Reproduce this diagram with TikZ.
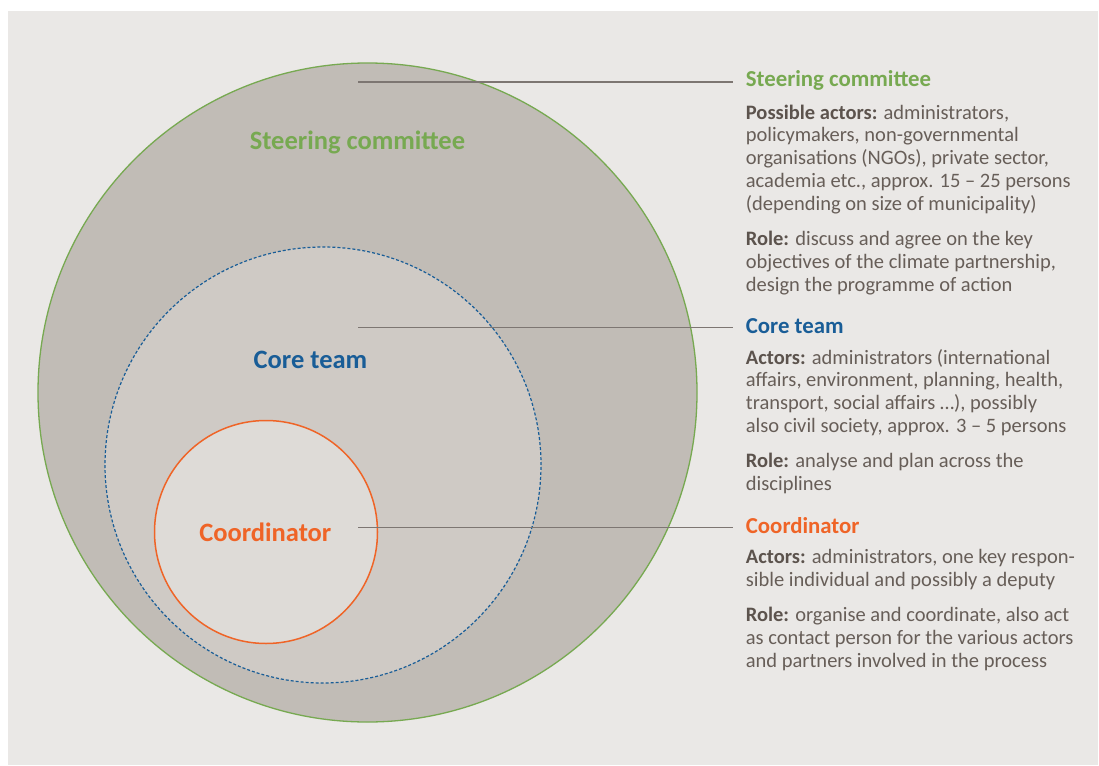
\documentclass[tikz,border=0pt]{standalone}
\usepackage{fontspec}
\setmainfont{Carlito}
\definecolor{bgc}{HTML}{EAE8E6}
\definecolor{fillout}{HTML}{C1BCB6}
\definecolor{fillmid}{HTML}{CFCAC5}
\definecolor{fillin}{HTML}{DEDBD7}
\definecolor{cgreen}{HTML}{77A951}
\definecolor{cblue}{HTML}{195D97}
\definecolor{corange}{HTML}{EF6427}
\definecolor{ctext}{HTML}{675E58}
\definecolor{cbold}{HTML}{5C534D}
\definecolor{cline}{HTML}{7D7672}
\newcommand{\paralines}[1]{\begin{tabular}[t]{@{}l@{}}#1\end{tabular}}
\begin{document}
\begin{tikzpicture}[x=1pt,y=-1pt,
  ring/.style={circle,inner sep=0pt,outer sep=0pt},
  biglabel/.style={anchor=base,inner sep=0pt,font=\bfseries\fontsize{26.5}{30}\selectfont},
  titlelabel/.style={anchor=base west,inner sep=0pt,font=\bfseries\fontsize{22.8}{26}\selectfont},
  para/.style={anchor=base west,inner sep=0pt,text=ctext,font=\fontsize{20.5}{22.8}\selectfont},
  conn/.style={draw=cline,line width=1.2pt}]
\useasboundingbox (0,0) rectangle (1099,765);
\fill[bgc] (8,11) rectangle (1098,765);
% circles
\node[ring,draw=cgreen,fill=fillout,line width=1.3pt,minimum size=659pt] (outer) at (367.5,392.5) {};
\node[ring,draw=cblue,fill=fillmid,line width=1.2pt,dash pattern=on 3pt off 2pt,minimum size=436pt] (core) at (323,465) {};
\node[ring,draw=corange,fill=fillin,line width=1.5pt,minimum size=223pt] (coord) at (266,532) {};
% inner labels
\node[biglabel,text=cgreen] (lsteer) at (357.5,149) {Steering committee};
\node[biglabel,text=cblue] (lcore) at (310.5,368.3) {Core team};
\node[biglabel,text=corange] (lcoord) at (265.3,541.7) {Coordinator};
% connectors
\coordinate (a1) at (358,82);   \coordinate (a2) at (733,82);
\coordinate (b1) at (358,327.3); \coordinate (b2) at (733,327.3);
\coordinate (c1) at (358,527.7); \coordinate (c2) at (733,527.7);
\draw[conn] (a1) -- (a2);
\draw[conn] (b1) -- (b2);
\draw[conn] (c1) -- (c2);
% right texts: steering committee
\node[titlelabel,text=cgreen] (tsteer) at (745.7,86.5) {Steering committee};
\node[para] (psteer1) at (745.7,119) {\paralines{\textcolor{cbold}{\bfseries Possible actors:} administrators,\\policymakers, non-governmental\\organisations (NGOs), private sector,\\academia etc., approx. 15 – 25 persons\\(depending on size of municipality)}};
\node[para] (psteer2) at (745.7,245.7) {\paralines{\textcolor{cbold}{\bfseries Role:} discuss and agree on the key\\objectives of the climate partnership,\\design the programme of action}};
% core team
\node[titlelabel,text=cblue] (tcore) at (745.7,333.3) {Core team};
\node[para] (pcore1) at (745.7,364) {\paralines{\textcolor{cbold}{\bfseries Actors:} administrators (international\\affairs, environment, planning, health,\\transport, social affairs …), possibly\\also civil society, approx. 3 – 5 persons}};
\node[para] (pcore2) at (745.7,467.7) {\paralines{\textcolor{cbold}{\bfseries Role:} analyse and plan across the\\disciplines}};
% coordinator
\node[titlelabel,text=corange] (tcoord) at (745.7,533.3) {Coordinator};
\node[para] (pcoord1) at (745.7,563.3) {\paralines{\textcolor{cbold}{\bfseries Actors:} administrators, one key respon-\\sible individual and possibly a deputy}};
\node[para] (pcoord2) at (745.7,621.7) {\paralines{\textcolor{cbold}{\bfseries Role:} organise and coordinate, also act\\as contact person for the various actors\\and partners involved in the process}};
\end{tikzpicture}
\end{document}
